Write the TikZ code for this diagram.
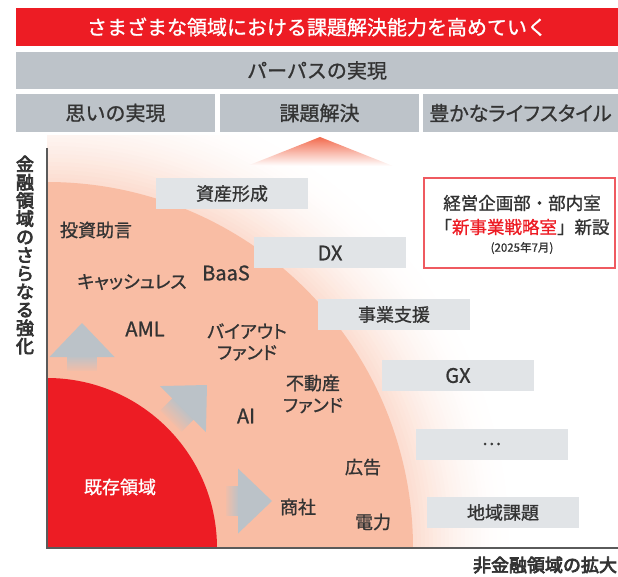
\documentclass[tikz,border=0pt]{standalone}
\usepackage{fontspec}
\setmainfont{Noto Sans CJK JP}[FakeBold=1]
\newfontfamily\jpp{Noto Sans CJK JP}[RawFeature=+palt,FakeBold=1]
\newfontfamily\jpb{Noto Sans CJK JP}[FakeBold=4]
\definecolor{brandred}{HTML}{ED1C24}
\definecolor{bargray}{HTML}{BDC3C9}
\definecolor{boxgray}{HTML}{E1E4E7}
\definecolor{peachc}{HTML}{F9BDA4}
\definecolor{arrowgray}{HTML}{BBC2C8}
\definecolor{txt}{HTML}{333333}
\definecolor{framec}{HTML}{EF5A60}
\definecolor{trired}{HTML}{F26B4E}
\definecolor{axisc}{HTML}{5A5A5A}
\newcommand\fadearrow[3]{%
\begin{scope}[shift={#1},rotate=#2]
  \foreach \i in {0,...,#3}{
    \pgfmathsetmacro\p{15+85*\i/#3}
    \fill[arrowgray!\p!peachc] ({-33-#3+\i},-15) rectangle ({-33-#3+\i+1.3},15);
  }
  \fill[arrowgray] (0,0) -- (-34,-32.5) -- (-34,32.5) -- cycle;
\end{scope}}
\begin{document}
\begin{tikzpicture}[x=1pt,y=-1pt,
  lbl/.style={text=txt,inner sep=0pt,font=\fontsize{18}{20}\selectfont},
  lblp/.style={text=txt,inner sep=0pt,align=center,font=\jpp\fontsize{18}{21}\selectfont},
  lat/.style={text=txt,inner sep=0pt,font=\fontsize{20}{22}\selectfont},
  gbox/.style={fill=boxgray,minimum width=152pt,minimum height=31pt,inner sep=0pt,text=txt,font=\fontsize{18}{20}\selectfont},
  hbar/.style={fill=bargray,inner sep=0pt,text=txt,font=\fontsize{20}{22}\selectfont},
  axlbl/.style={text=txt,inner sep=0pt,font=\jpb\fontsize{18}{18.2}\selectfont},
]
\useasboundingbox (0,0) rectangle (618,577);

% header bars
\node[hbar,fill=brandred,text=white,minimum width=602pt,minimum height=38pt] (title) at (317,27) {さまざまな領域における課題解決能力を高めていく};
\node[hbar,minimum width=602pt,minimum height=37pt] (purpose) at (317,70.5) {パーパスの実現};
\node[hbar,minimum width=199pt,minimum height=38pt] (h1) at (115.5,113) {思いの実現};
\node[hbar,minimum width=199pt,minimum height=38pt] (h2) at (319.5,113) {課題解決};
\node[hbar,minimum width=195pt,minimum height=38pt,font=\jpp\fontsize{20}{22}\selectfont] (h3) at (520.5,113) {豊かなライフスタイル};

% background fade + circles
\begin{scope}
  \clip (47,136) rectangle (618,548);
  \foreach \r in {474,470,...,370}{
    \pgfmathsetmacro\t{50*((474-\r)/104)^2}
    \fill[peachc!\t!white] (47,548) circle ({\r pt});
  }
  \fill[peachc] (47,548) circle (366pt);
  \fill[brandred] (47,548) circle (170pt);
\end{scope}

% upward triangle
\shade[top color=trired,bottom color=white] (247,166) -- (320,137) -- (393,166) -- cycle;

% arrows
\fadearrow{(82,323)}{90}{15}
\fadearrow{(207,385)}{45}{18}
\fadearrow{(272,501)}{0}{13}

% gray boxes
\node[gbox] (b1) at (232,193.5) {資産形成};
\node[gbox,font=\fontsize{20}{22}\selectfont] (b2) at (330,253) {DX};
\node[gbox] (b3) at (394,314.5) {事業支援};
\node[gbox,font=\fontsize{20}{22}\selectfont] (b4) at (458,375.5) {GX};
\node[gbox] (b5) at (491.5,444) {…};
\node[gbox] (b6) at (503,512.5) {地域課題};

% labels
\node[lbl] (l1) at (96,230) {投資助言};
\node[lblp] (l2) at (132,282) {キャッシュレス};
\node[lat] (l3) at (226,273) {BaaS};
\node[lat] (l4) at (145,329) {AML};
\node[lblp] (l5) at (247,342) {バイアウト\\ファンド};
\node[lblp,font=\jpp\fontsize{18}{22}\selectfont] (l6) at (313,394) {不動産\\ファンド};
\node[lat] (l7) at (246,416) {AI};
\node[lbl] (l8) at (298,507) {商社};
\node[lbl] (l9) at (363,467) {広告};
\node[lbl] (l10) at (373,522) {電力};
\node[lbl,text=white] (l11) at (120,487) {既存領域};

% red-framed note
\node[draw=framec,line width=1.3pt,minimum width=191pt,minimum height=90pt,inner sep=0pt] (note) at (519.5,223) {};
\node[text=txt,inner sep=0pt,font=\fontsize{17.5}{20}\selectfont] (n1) at (522,203) {経営企画部・部内室};
\node[text=txt,inner sep=0pt,font=\fontsize{17.5}{20}\selectfont] (n2) at (522,227) {「\textcolor{brandred}{新事業戦略室}」新設};
\node[text=txt,inner sep=0pt,font=\fontsize{11.5}{13}\selectfont] (n3) at (522,248) {(2025年7月)};

% axes
\coordinate (ytop) at (47,148);
\coordinate (org) at (47,548);
\coordinate (xend) at (618,548);
\draw[axisc,line width=1.1pt] (ytop) -- (org) -- (xend);
\node[axlbl,align=center] (ylab) at (25,255) {金\\融\\領\\域\\の\\さ\\ら\\な\\る\\強\\化};
\node[axlbl] (xlab) at (545,565) {非金融領域の拡大};
\end{tikzpicture}
\end{document}
